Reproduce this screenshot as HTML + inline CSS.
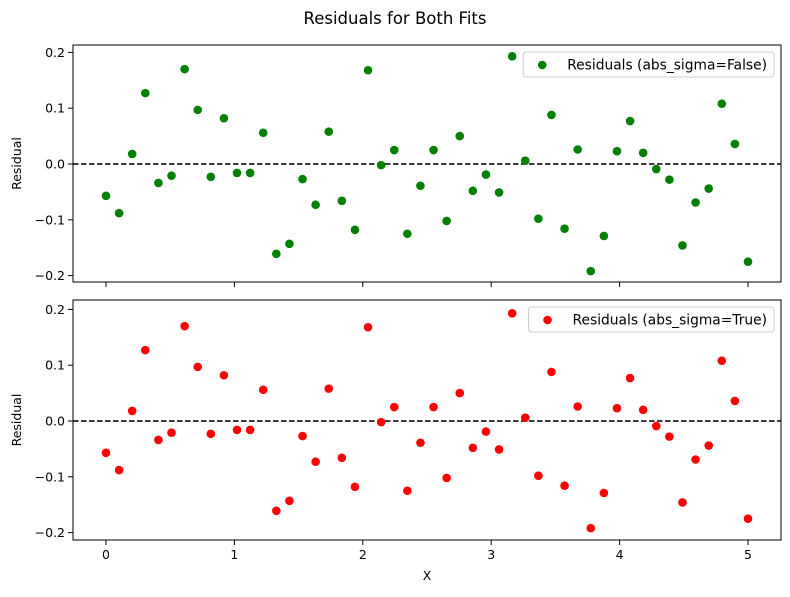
<!DOCTYPE html>
<html><head><meta charset="utf-8"><style>
body{margin:0;background:#fff;}
svg{font-family:"DejaVu Sans","Liberation Sans",sans-serif;}
</style></head><body>
<svg id="chart" width="790" height="592" xmlns="http://www.w3.org/2000/svg">
<text x="395" y="24" font-size="16.5" text-anchor="middle">Residuals for Both Fits</text>
</svg>
<script>
const xs = [];
for (let i = 0; i < 50; i++) xs.push(i * 5 / 49);
const residualsFalse = [-0.057,-0.088,0.018,0.127,-0.034,-0.021,0.170,0.097,-0.023,0.082,-0.016,-0.016,0.056,-0.161,-0.143,-0.027,-0.073,0.058,-0.066,-0.118,0.168,-0.002,0.025,-0.125,-0.039,0.025,-0.102,0.050,-0.048,-0.019,-0.051,0.193,0.006,-0.098,0.088,-0.116,0.026,-0.192,-0.129,0.023,0.077,0.020,-0.009,-0.028,-0.146,-0.069,-0.044,0.108,0.036,-0.175];
const residualsTrue = [-0.057,-0.088,0.018,0.127,-0.034,-0.021,0.170,0.097,-0.023,0.082,-0.016,-0.016,0.056,-0.161,-0.143,-0.027,-0.073,0.058,-0.066,-0.118,0.168,-0.002,0.025,-0.125,-0.039,0.025,-0.102,0.050,-0.048,-0.019,-0.051,0.193,0.006,-0.098,0.088,-0.116,0.026,-0.192,-0.129,0.023,0.077,0.020,-0.009,-0.028,-0.146,-0.069,-0.044,0.108,0.036,-0.175];
const xTicks = [0,1,2,3,4,5];
const yTicks = [-0.2,-0.1,0.0,0.1,0.2];
const legendLabels = ["Residuals (abs_sigma=False)","Residuals (abs_sigma=True)"];

const NS = "http://www.w3.org/2000/svg";
const svg = document.getElementById('chart');
function mk(tag, attrs, parent){const e=document.createElementNS(NS,tag);for(const k in attrs)e.setAttribute(k,attrs[k]);(parent||svg).appendChild(e);return e;}
const L=73,R=781;
const xScale = v => 106 + v*128.4;
function fmt(t){const s=Math.abs(t).toFixed(1);return t<-1e-9?'\u2212'+s:s;}

function panel(top,bottom,zeroY,data,color,label,showX,idx){
  const g=mk('g',{});
  
  
  const yScale = v => zeroY - v*558;
  const fr=mk('rect',{x:L,y:top,width:R-L,height:bottom-top,fill:'none',stroke:'#000','stroke-width':1},g);
  
  
  yTicks.forEach(t=>{
    const y=yScale(t);
    mk('line',{x1:L-5,x2:L,y1:y,y2:y,stroke:'#000'},g);
    const tx=mk('text',{x:L-8,y:y+4.5,'font-size':12.5,'text-anchor':'end'},g);
    tx.textContent=fmt(t);
    
    
  });
  xTicks.forEach(t=>{
    const x=xScale(t);
    mk('line',{x1:x,x2:x,y1:bottom,y2:bottom+5,stroke:'#000'},g);
    if(showX){const tx=mk('text',{x:x,y:bottom+19,'font-size':12.5,'text-anchor':'middle'},g);tx.textContent=t;
      
      }
  });
  const zl=mk('line',{x1:L,x2:R,y1:yScale(0),y2:yScale(0),stroke:'#000','stroke-width':1.5,'stroke-dasharray':'5.5,2.5'},g);
  
  
  data.forEach((v,i)=>{
    const c=mk('circle',{cx:xScale(xs[i]),cy:yScale(v),r:4.3,fill:color},g);
    
    
  });
  const yl=mk('text',{x:0,y:0,'font-size':12.5,'text-anchor':'middle',transform:`translate(21,${(top+bottom)/2}) rotate(-90)`},g);
  yl.textContent='Residual';
  
  
  const lg=mk('g',{},g);
  
  
  const box=mk('rect',{y:top+7,height:25,rx:3,fill:'#fff',stroke:'#ccc'},lg);
  const mark=mk('circle',{cy:top+20,r:4.3,fill:color},lg);
  const lt=mk('text',{y:top+24.5,'font-size':13.8,'text-anchor':'end',x:R-14},lg);
  lt.textContent=label;
  const w=lt.getComputedTextLength();
  const tx0=R-14-w;
  mark.setAttribute('cx', tx0-25);
  box.setAttribute('x', tx0-44);
  box.setAttribute('width', w+44+7);
}
panel(45,282,164,residualsFalse,'green',legendLabels[0],false,0);
panel(300,540,421,residualsTrue,'red',legendLabels[1],true,1);
const xl=mk('text',{x:427,y:580,'font-size':12.5,'text-anchor':'middle'});
xl.textContent='X';


</script>
</body></html>
